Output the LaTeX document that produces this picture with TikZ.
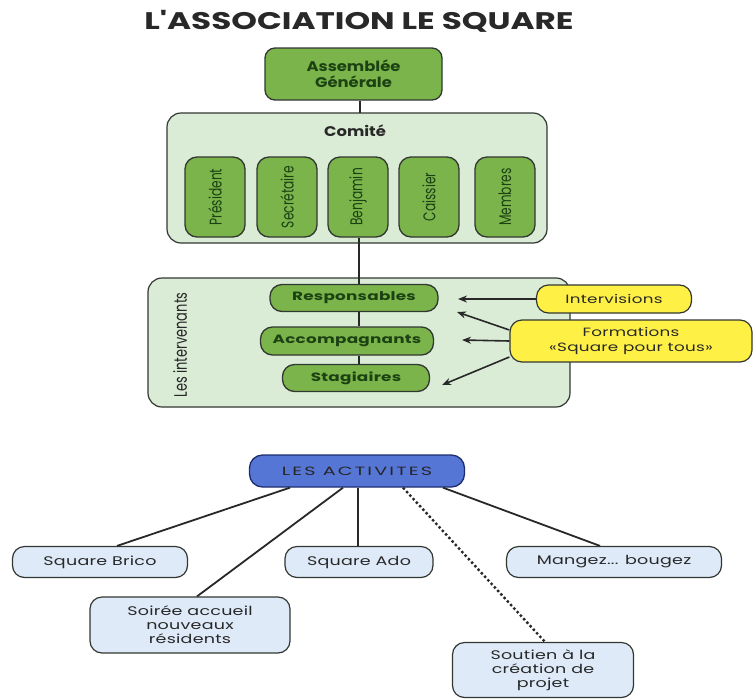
\documentclass[tikz,border=0pt]{standalone}
\usepackage{fontspec}
\setmainfont{Poppins}
\newfontfamily\wideA[FakeStretch=1.4,LetterSpace=2]{Poppins}
\newfontfamily\wideB[FakeStretch=1.17]{Poppins}
\newfontfamily\wideT[FakeStretch=1.36]{Poppins}
\newfontfamily\wideL[FakeStretch=1.6,LetterSpace=18]{Poppins}
\usetikzlibrary{arrows.meta}
\definecolor{gfill}{RGB}{122,180,74}
\definecolor{gtext}{RGB}{28,66,20}
\definecolor{lgfill}{RGB}{218,236,214}
\definecolor{edge}{RGB}{50,55,50}
\definecolor{yfill}{RGB}{255,240,70}
\definecolor{bfill}{RGB}{86,118,214}
\definecolor{bedge}{RGB}{30,45,110}
\definecolor{lbfill}{RGB}{222,234,248}
\definecolor{ink}{RGB}{40,40,40}
\tikzset{
  x=1pt,y=-1pt,
  greenbox/.style={draw=edge,fill=gfill,line width=1.3pt,rounded corners=10pt,text=gtext,align=center,inner sep=0pt},
  panel/.style={draw=edge,fill=lgfill,line width=1.2pt,rounded corners=14pt,inner sep=0pt},
  vpill/.style={greenbox,minimum width=60pt,minimum height=80pt,rounded corners=12pt},
  hpill/.style={greenbox,minimum height=27pt,rounded corners=12pt,font=\wideA\bfseries\fontsize{12}{14}\selectfont},
  ybox/.style={draw=edge,fill=yfill,line width=1.2pt,rounded corners=12pt,text=ink,font=\wideA\fontsize{12}{15}\selectfont,align=center,inner sep=0pt},
  lbbox/.style={draw=edge,fill=lbfill,line width=1.2pt,rounded corners=12pt,text=ink,font=\wideA\fontsize{12.5}{14}\selectfont,align=center,inner sep=0pt},
  conn/.style={draw=ink,line width=1.8pt},
  arr/.style={draw=ink,line width=1.6pt,-{Stealth[length=9pt,width=7pt]}},
}
\newcommand{\cond}[1]{\scalebox{0.72}[1]{#1}}
\begin{document}
\begin{tikzpicture}
\useasboundingbox (0,0) rectangle (754,699);
\node[text=ink,font=\wideT\bfseries\fontsize{24}{26}\selectfont] (title) at (359,21) {L'ASSOCIATION LE SQUARE};
\node[greenbox,minimum width=177pt,minimum height=52pt,font=\wideB\bfseries\fontsize{14}{16}\selectfont] (ag) at (353.5,74) {Assemblée\\Générale};
\node[panel,minimum width=380pt,minimum height=130pt] (comite) at (357,178) {};
\node[text=ink,font=\wideB\bfseries\fontsize{14}{16}\selectfont] (comlab) at (355,131) {Comité};
\node[vpill] (pres) at (215,197) {};
\node[vpill] (secr) at (287,197) {};
\node[vpill] (benj) at (358,197) {};
\node[vpill] (cais) at (429,197) {};
\node[vpill] (memb) at (505,197) {};
\foreach \n/\t in {pres/Président,secr/Secrétaire,benj/Benjamin,cais/Caissier,memb/Membres}
  \node[rotate=90,text=gtext,font=\fontsize{17}{17}\selectfont] at (\n) {\cond{\t}};
\draw[conn] (ag.south -| 360,0) -- (360,113);
\node[panel,minimum width=422pt,minimum height=129pt] (interv) at (359,342.5) {};
\node[rotate=90,text=ink,font=\fontsize{18}{18}\selectfont] (intlab) at (180,345) {\cond{Les intervenants}};
\node[hpill,minimum width=168pt] (resp) at (354,298) {Responsables};
\node[hpill,minimum width=173pt,minimum height=28pt] (acc) at (347,341) {Accompagnants};
\node[hpill,minimum width=147pt] (stag) at (356,378) {Stagiaires};
\draw[conn] (benj.south -| 359,0) -- (resp.north -| 359,0);
\draw[conn] (resp.south -| 359,0) -- (acc.north -| 359,0);
\draw[conn] (acc.south -| 359,0) -- (stag.north -| 359,0);
\node[ybox,minimum width=155pt,minimum height=28pt] (intv) at (614,299) {Intervisions};
\node[ybox,minimum width=242pt,minimum height=42pt] (form) at (631,341) {Formations\\«Square pour tous»};
\coordinate (a1) at (458,299);
\coordinate (a2) at (457,312);
\coordinate (a3) at (462,340);
\coordinate (a4) at (442,385);
\draw[arr] (intv.west) -- (a1);
\draw[arr] (form.west |- 0,330) -- (a2);
\draw[arr] (form.west) -- (a3);
\draw[arr] (form.west |- 0,357) -- (a4);
\node[draw=bedge,fill=bfill,line width=1.3pt,rounded corners=13pt,minimum width=215pt,minimum height=32pt,inner sep=0pt,text=black!85,font=\wideL\fontsize{12}{14}\selectfont] (act) at (357,471) {LES ACTIVITES};
\node[lbbox,minimum width=175pt,minimum height=31pt] (brico) at (100,562) {Square Brico};
\node[lbbox,minimum width=148pt,minimum height=31pt] (ado) at (359,562) {Square Ado};
\node[lbbox,minimum width=215pt,minimum height=31pt] (mang) at (614,562) {Mangez... bougez};
\node[lbbox,minimum width=200pt,minimum height=56pt] (soir) at (190,625) {Soirée accueil\\nouveaux\\résidents};
\node[lbbox,minimum width=181pt,minimum height=55pt] (sout) at (543,670) {Soutien à la\\création de\\projet};
\draw[conn] (act.south -| 290,0) -- (brico.north -| 117,0);
\draw[conn] (act.south -| 343,0) -- (soir.north -| 197,0);
\draw[conn] (act.south -| 358,0) -- (ado.north -| 358,0);
\draw[conn] (act.south -| 443,0) -- (mang.north -| 600,0);
\draw[draw=ink,line width=2.4pt,dash pattern=on 2.4pt off 2.4pt] (act.south -| 403,0) -- (sout.north -| 545,0);
\end{tikzpicture}
\end{document}
